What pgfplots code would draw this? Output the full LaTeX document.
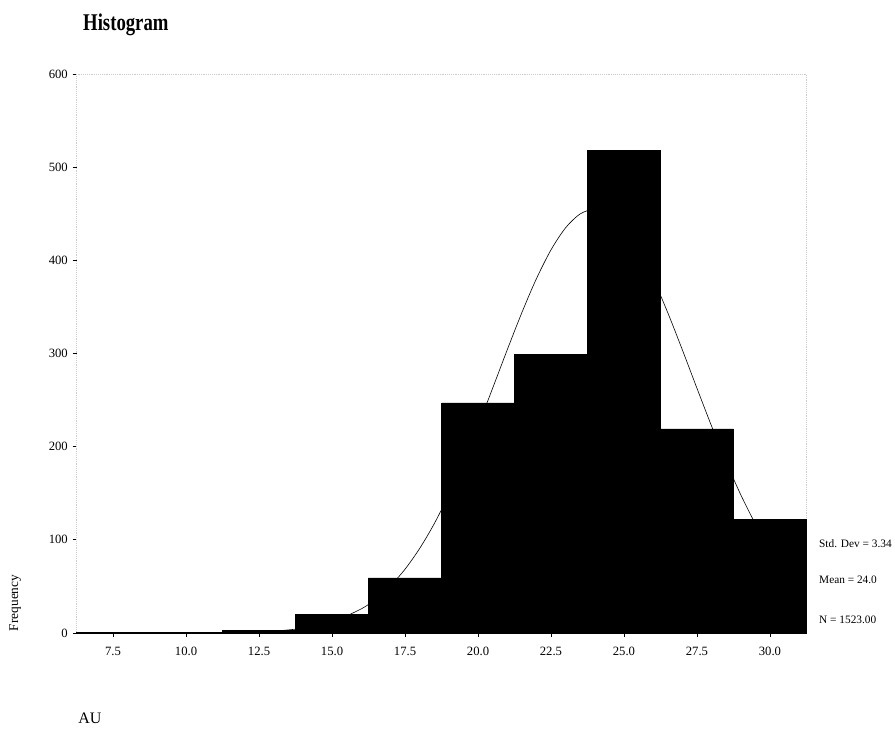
\documentclass[border=0pt]{standalone}
\usepackage{fontspec}
\setmainfont{Liberation Serif}
\usepackage{graphicx}
\usepackage{pgfplots}
\pgfplotsset{compat=1.18}

% bin heights (bins 2.5 wide, centred on the tick values)
\pgfplotstableread{
edge  freq
6.25  1
8.75  0.6
11.25 3
13.75 20
16.25 59
18.75 247
21.25 299
23.75 518
26.25 219
28.75 122
31.25 0
}\histdata

\begin{document}
\begin{tikzpicture}
\begin{axis}[
  scale only axis,
  width=547.5pt, height=419.25pt,
  xmin=6.25, xmax=31.25,
  ymin=0, ymax=600,
  axis line style={gray!40, densely dotted, line width=0.4pt},
  clip=false,
  xtick={7.5,10,12.5,15,17.5,20,22.5,25,27.5,30},
  ytick={0,100,200,300,400,500,600},
  tick style={black, line width=0.5pt},
  tick align=outside,
  major tick length=3pt,
  xtick pos=bottom, ytick pos=left,
  /pgf/number format/assume math mode=true,
  xticklabel style={/pgf/number format/.cd, fixed, fixed zerofill, precision=1},
  yticklabel style={/pgf/number format/.cd, fixed, precision=0},
  tick label style={font=\fontsize{9.5}{11}\selectfont},
  xticklabel shift=4pt,
]
\addplot[ybar interval, fill=black, draw=black, line width=0.4pt] table[x=edge, y=freq] {\histdata};

% fitted normal curve (mean 24.0, sd 3.34, N 1523)
\addplot[black, line width=0.45pt, smooth] coordinates {
(10,0.07) (11,0.23) (12,0.72) (13,2.0) (14,5.1) (15,12.0) (16,25.8)
(16.5,36.5) (17,50.6) (17.5,68.4) (18,90.6) (18.5,117.2) (19,148.3)
(19.5,183.5) (20,222.0) (20.5,262.6) (21,303.8) (21.5,343.7) (22,380.2)
(22.5,411.2) (23,434.9) (23.5,449.8) (24,454.8) (24.5,449.8) (25,434.9)
(25.5,411.2) (26,380.2) (26.5,343.7) (27,303.8) (27.5,262.6) (28,222.0)
(28.5,183.5) (29,148.3) (29.5,117.2) (30,90.6) (30.5,68.4) (31,50.6)
(31.25,43.2)
};

\node[anchor=west, font=\fontsize{8.5}{10}\selectfont] at ([xshift=6pt]axis cs:31.25,96) {Std. Dev = 3.34};
\node[anchor=west, font=\fontsize{8.5}{10}\selectfont] at ([xshift=6pt]axis cs:31.25,57) {Mean = 24.0};
\node[anchor=west, font=\fontsize{8.5}{10}\selectfont] at ([xshift=6pt]axis cs:31.25,14) {N = 1523.00};
\end{axis}

\node[font=\bfseries\fontsize{18}{20}\selectfont] at (37pt,456pt) {\scalebox{0.78}[1]{Histogram}};
\node[rotate=90, font=\fontsize{10}{12}\selectfont] at (-46pt,22.5pt) {Frequency};
\node[anchor=west, font=\fontsize{12}{14}\selectfont, inner sep=0pt] at (1.1pt,-63.75pt) {AU};

\pgfresetboundingbox
\path[use as bounding box] (-57.4pt,-78pt) rectangle (613.9pt,474.75pt);
\end{tikzpicture}
\end{document}
